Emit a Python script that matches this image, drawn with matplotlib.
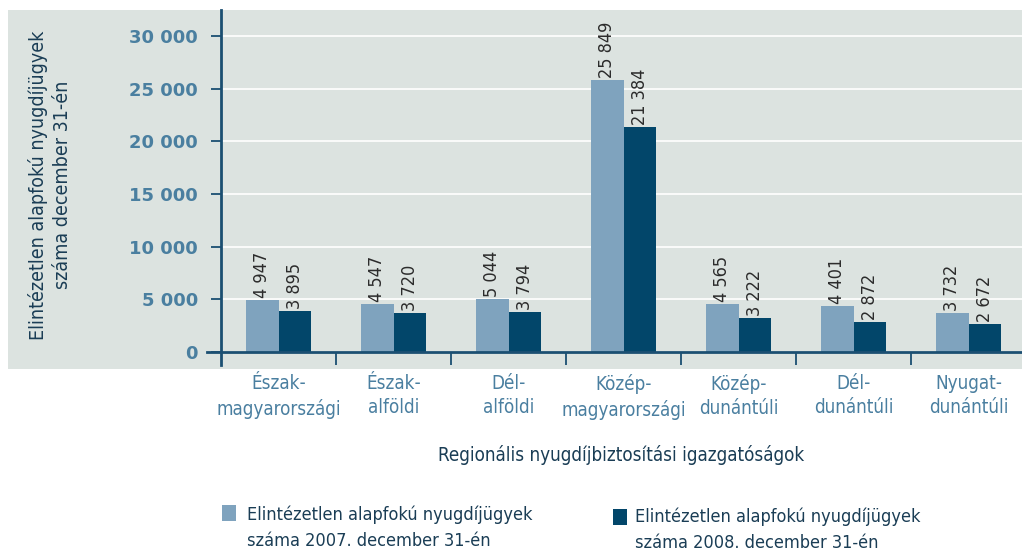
import matplotlib
matplotlib.use("Agg")
import matplotlib.pyplot as plt
from matplotlib.patches import Rectangle
import numpy as np

plt.rcParams['font.family'] = ['DejaVu Sans']
plt.rcParams['font.stretch'] = 'condensed'

# data
regions = ["Észak-\nmagyarországi", "Észak-\nalföldi", "Dél-\nalföldi",
           "Közép-\nmagyarországi", "Közép-\ndunántúli", "Dél-\ndunántúli",
           "Nyugat-\ndunántúli"]
cases_2007 = [4947, 4547, 5044, 25849, 4565, 4401, 3732]
cases_2008 = [3895, 3720, 3794, 21384, 3222, 2872, 2672]
y_ticks = [0, 5000, 10000, 15000, 20000, 25000, 30000]

c_light = "#7fa3be"
c_dark = "#02466a"
c_panel = "#dce3e0"
c_axis = "#1b4f72"
c_tick = "#4a7fa0"
c_text = "#1a3d55"


def fmt(v):
    return f"{v:,}".replace(",", " ")


fig = plt.figure(figsize=(10.22, 5.53), dpi=100)
# grey panel behind the chart
fig.add_artist(Rectangle((8 / 1022, 1 - 369 / 553), 1014 / 1022, 359 / 553,
                         transform=fig.transFigure, facecolor=c_panel,
                         edgecolor="none", zorder=0))

ax = fig.add_axes([221 / 1022, 1 - 352 / 553, 801 / 1022, 342 / 553])
ax.set_facecolor(c_panel)
for s in ax.spines.values():
    s.set_visible(False)

x = np.arange(len(regions)) + 0.5
w = 0.285
ax.bar(x - w / 2, cases_2007, w, color=c_light, zorder=2)
ax.bar(x + w / 2, cases_2008, w, color=c_dark, zorder=2)

# value labels, rotated
for xi, v in zip(x - w / 2, cases_2007):
    ax.text(xi, v + 200, fmt(v), rotation=90, ha="center", va="bottom",
            fontsize=13, color="#2b2b2b")
for xi, v in zip(x + w / 2, cases_2008):
    ax.text(xi, v + 200, fmt(v), rotation=90, ha="center", va="bottom",
            fontsize=13, color="#2b2b2b")

ax.set_xlim(0, 801 / 115)
ax.set_ylim(0, 32470)

ax.set_yticks(y_ticks)
ax.set_yticklabels([fmt(t) for t in y_ticks], fontsize=13, fontweight="bold",
                   color=c_tick, fontstretch="normal")
ax.tick_params(axis="y", direction="out", length=7.5, width=1.3, color=c_axis, pad=9)
ax.yaxis.grid(True, color="white", linewidth=1.2, zorder=1)
ax.set_axisbelow(True)

ax.set_xticks(x)
ax.set_xticklabels(regions, fontsize=13.5, color=c_tick, linespacing=1.35)
ax.tick_params(axis="x", length=0, pad=16)
ax.set_xticks(np.arange(1, len(regions)), minor=True)
ax.tick_params(axis="x", which="minor", direction="out", length=9, width=1.3, color=c_axis)

# axis lines, a little past the corner
ax.plot([0, 0], [-0.038, 1], transform=ax.transAxes, color=c_axis, lw=2, clip_on=False, zorder=5)
ax.plot([-0.0175, 1], [0, 0], transform=ax.transAxes, color=c_axis, lw=2, clip_on=False, zorder=5)

fig.text(50 / 1022, 1 - 185 / 553,
         "Elintézetlen alapfokú nyugdíjügyek\nszáma december 31-én",
         rotation=90, ha="center", va="center", fontsize=14, color=c_text,
         linespacing=1.3)

fig.text(621 / 1022, 1 - 455 / 553, "Regionális nyugdíjbiztosítási igazgatóságok",
         ha="center", va="center", fontsize=13.5, color=c_text)

# legend
fig.add_artist(Rectangle((222 / 1022, 1 - 521 / 553), 14 / 1022, 16 / 553,
                         transform=fig.transFigure, facecolor=c_light, edgecolor="none"))
fig.text(247 / 1022, 1 - 506 / 553,
         "Elintézetlen alapfokú nyugdíjügyek\nszáma 2007. december 31-én",
         ha="left", va="top", fontsize=13, color=c_text, linespacing=1.55)
fig.add_artist(Rectangle((613 / 1022, 1 - 525 / 553), 14 / 1022, 16 / 553,
                         transform=fig.transFigure, facecolor=c_dark, edgecolor="none"))
fig.text(635 / 1022, 1 - 508 / 553,
         "Elintézetlen alapfokú nyugdíjügyek\nszáma 2008. december 31-én",
         ha="left", va="top", fontsize=13, color=c_text, linespacing=1.55)

fig.savefig("out.png", dpi=100)
